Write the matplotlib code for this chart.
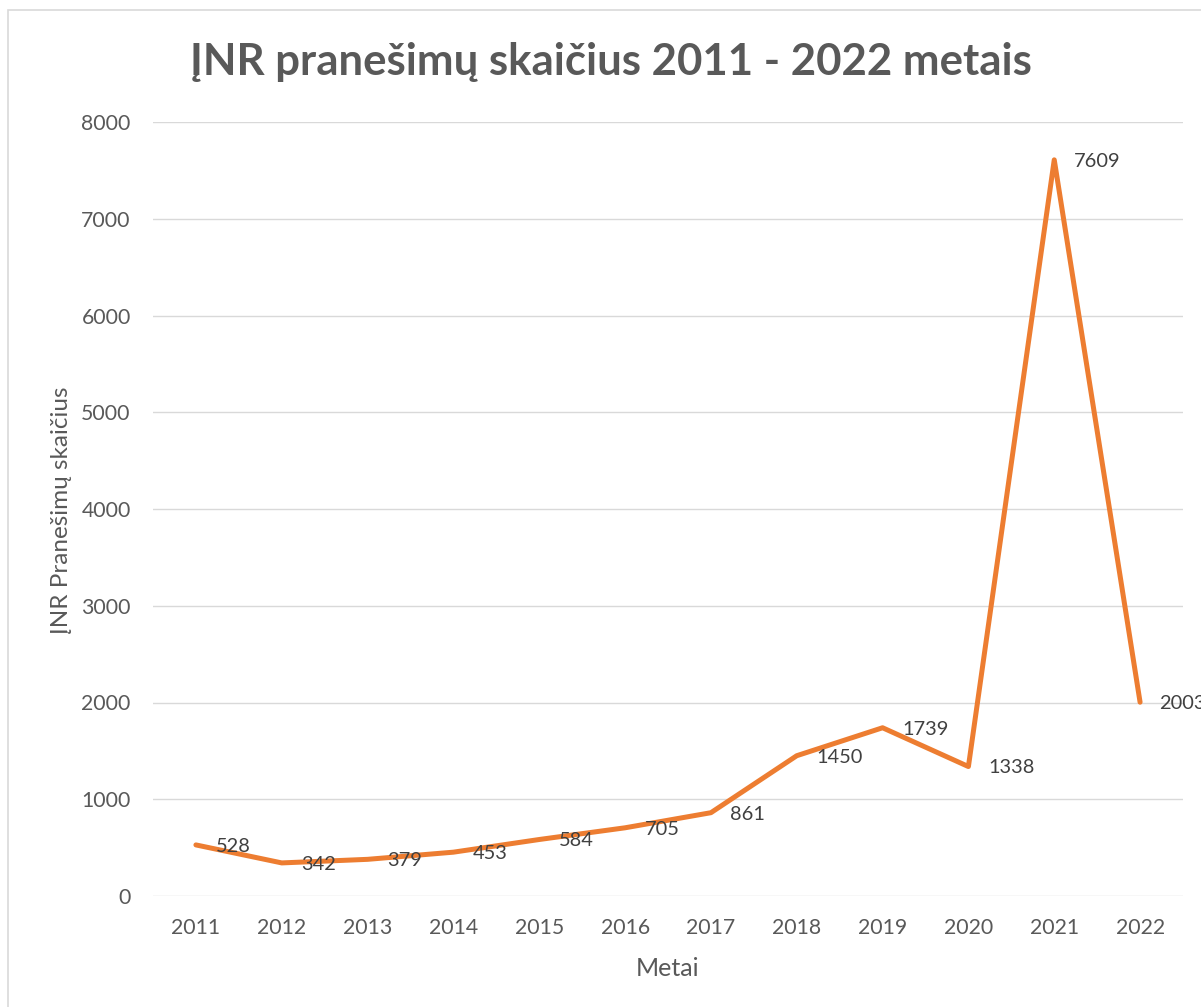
import matplotlib
matplotlib.use("Agg")
import matplotlib.pyplot as plt
from matplotlib.patches import Rectangle

years = ["2011", "2012", "2013", "2014", "2015", "2016",
         "2017", "2018", "2019", "2020", "2021", "2022"]
counts = [528, 342, 379, 453, 584, 705, 861, 1450, 1739, 1338, 7609, 2003]
yticks = [0, 1000, 2000, 3000, 4000, 5000, 6000, 7000, 8000]

plt.rcParams['font.family'] = ['Lato', 'DejaVu Sans']
grey = '#595959'
W, H = 1201, 1007

fig = plt.figure(figsize=(W / 100, H / 100), dpi=100)
ax = fig.add_axes([153 / W, 1 - 896 / H, (1183 - 153) / W, (896 - 122) / H])

x = list(range(len(years)))
ax.plot(x, counts, color='#ED7D31', lw=3.6, solid_capstyle='round',
        solid_joinstyle='round', zorder=3)

# labels to the right of each point, like Excel
for xi, v in zip(x, counts):
    ax.annotate(str(v), (xi, v), xytext=(14, -1), textcoords='offset points',
                ha='left', va='center', fontsize=14.4, color='#404040',
                zorder=4, annotation_clip=False)

ax.set_xlim(-0.5, len(years) - 0.5)
ax.set_ylim(0, 8000)
ax.set_xticks(x)
ax.set_xticklabels(years)
ax.set_yticks(yticks)
ax.tick_params(axis='both', length=0, labelsize=15.3, labelcolor=grey)
ax.tick_params(axis='x', pad=16)
ax.tick_params(axis='y', pad=16)
ax.grid(axis='y', color='#D9D9D9', lw=1)
ax.set_axisbelow(True)
for s in ax.spines.values():
    s.set_visible(False)

fig.text(611 / W, 1 - 75 / H, "ĮNR pranešimų skaičius 2011 - 2022 metais",
         ha='center', va='baseline', fontsize=31.5, fontweight='bold', color=grey)
fig.text(62 / W, 1 - 510 / H, "ĮNR Pranešimų skaičius", rotation=90,
         ha='center', va='center', fontsize=17.5, color=grey)
fig.text(668 / W, 1 - 968 / H, "Metai", ha='center', va='center',
         fontsize=18, color=grey)

# chart border (runs off the right and bottom edge)
fig.patches.append(Rectangle((8 / W, -0.05), 1.1, 1 - 10 / H + 0.05,
                             transform=fig.transFigure, fill=False,
                             edgecolor='#D9D9D9', lw=1.2))

fig.savefig("out.png", dpi=100)
plt.close(fig)
